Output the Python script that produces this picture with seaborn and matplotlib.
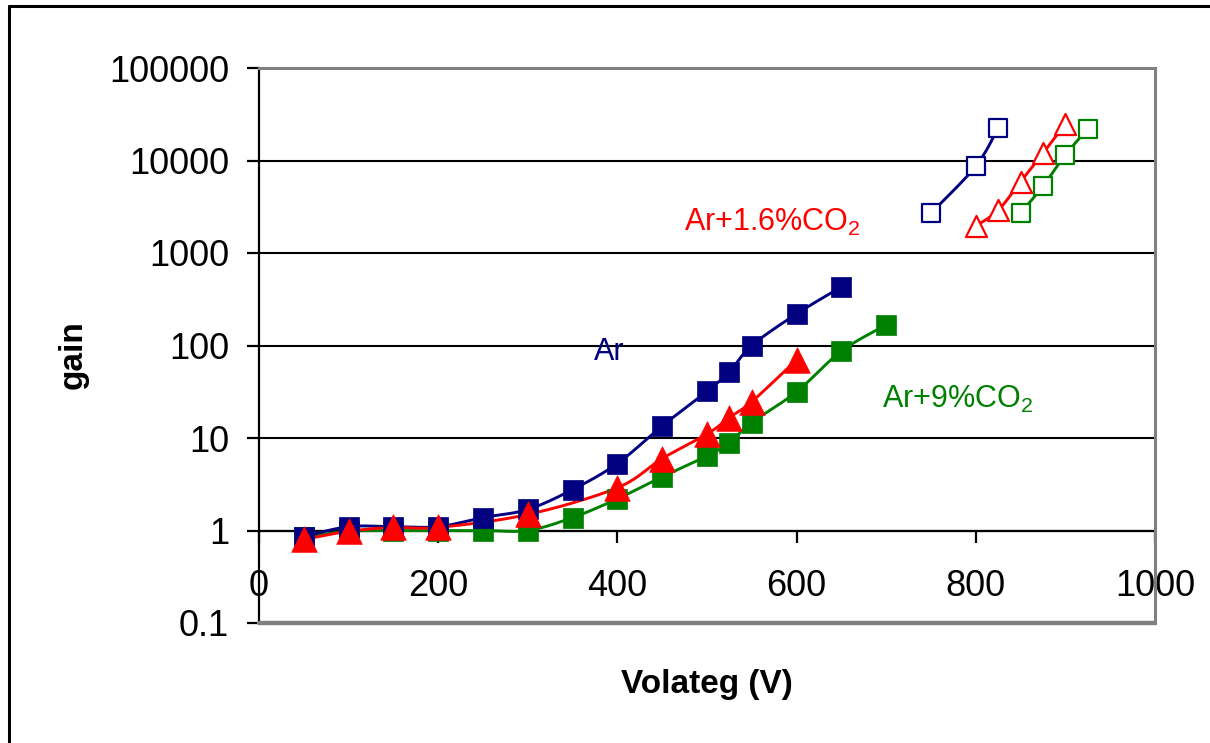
import numpy as np
import pandas as pd
import matplotlib
matplotlib.use('Agg')
import matplotlib.pyplot as plt
import seaborn as sns
from matplotlib.lines import Line2D

# --- data ---
# filled markers (low voltage range)
volt_ar = [50, 100, 150, 200, 250, 300, 350, 400, 450, 500, 525, 550, 600, 650]
gain_ar = [0.86, 1.1, 1.1, 1.1, 1.38, 1.69, 2.77, 5.3, 13.5, 32, 52, 100, 220, 430]

volt_co2_16 = [50, 100, 150, 200, 300, 400, 450, 500, 525, 550, 600]
gain_co2_16 = [0.8, 0.98, 1.08, 1.08, 1.49, 2.9, 6.0, 11, 16.6, 24.7, 70]

volt_co2_9 = [50, 100, 150, 200, 250, 300, 350, 400, 450, 500, 525, 550, 600, 650, 700]
gain_co2_9 = [0.85, 0.98, 1.0, 1.0, 1.0, 1.0, 1.38, 2.2, 3.8, 6.4, 8.9, 14.7, 31.6, 87, 167]

# open markers (high voltage range)
volt_ar_hi = [750, 800, 825]
gain_ar_hi = [2700, 8700, 22500]

volt_co2_16_hi = [800, 825, 850, 875, 900]
gain_co2_16_hi = [1960, 2900, 5900, 12000, 25000]

volt_co2_9_hi = [850, 875, 900, 925]
gain_co2_9_hi = [2700, 5300, 11500, 22000]

y_ticks = [0.1, 1, 10, 100, 1000, 10000, 100000]
y_labels = ['0.1', '1', '10', '100', '1000', '10000', '100000']
x_ticks = [0, 200, 400, 600, 800, 1000]

NAVY = '#000080'
RED = '#FF0000'
GREEN = '#008000'

sns.set_theme(style='white')
plt.rcParams['font.family'] = ['Liberation Sans', 'DejaVu Sans']
plt.rcParams['text.color'] = 'black'
plt.rcParams['xtick.color'] = 'black'
plt.rcParams['ytick.color'] = 'black'
plt.rcParams['mathtext.fontset'] = 'custom'
plt.rcParams['mathtext.rm'] = 'Liberation Sans'
plt.rcParams['mathtext.it'] = 'Liberation Sans:italic'
plt.rcParams['mathtext.bf'] = 'Liberation Sans:bold'


def smooth(xs, ys, n=24):
    # Excel style smoothed line, done in screen-like units (x linear, y log)
    u = np.asarray(xs, float) * 0.896
    v = np.log10(np.asarray(ys, float)) * 92.6
    pts = np.column_stack([u, v])
    P = np.vstack([pts[0], pts, pts[-1]])
    t = np.linspace(0, 1, n)[:, None]
    out = []
    for i in range(1, len(P) - 2):
        p0, p1, p2, p3 = P[i - 1], P[i], P[i + 1], P[i + 2]
        c1 = p1 + (p2 - p0) / 6
        c2 = p2 - (p3 - p1) / 6
        seg = ((1 - t) ** 3) * p1 + 3 * ((1 - t) ** 2) * t * c1 \
            + 3 * (1 - t) * t ** 2 * c2 + t ** 3 * p2
        out.append(seg if i == 1 else seg[1:])
    out = np.vstack(out)
    return pd.DataFrame({'x': out[:, 0] / 0.896, 'y': 10 ** (out[:, 1] / 92.6)})


fig = plt.figure(figsize=(12.1, 7.43), dpi=100)
ax = fig.add_axes([259 / 1210, 1 - 623 / 743, (1155 - 259) / 1210, (623 - 68) / 743])
ax.set_yscale('log')
ax.set_xlim(0, 1000)
ax.set_ylim(0.1, 100000)

series = [
    (volt_co2_9, gain_co2_9, GREEN, 's', True),
    (volt_ar, gain_ar, NAVY, 's', True),
    (volt_co2_16, gain_co2_16, RED, '^', True),
    (volt_ar_hi, gain_ar_hi, NAVY, 's', False),
    (volt_co2_16_hi, gain_co2_16_hi, RED, '^', False),
    (volt_co2_9_hi, gain_co2_9_hi, GREEN, 's', False),
]

for xs, ys, col, mk, filled in series:
    curve = smooth(xs, ys)
    sns.lineplot(data=curve, x='x', y='y', sort=False, estimator=None,
                 color=col, linewidth=2.1, ax=ax, zorder=3)
    pts = pd.DataFrame({'x': xs, 'y': ys})
    if filled:
        size = 220 if mk == 's' else 340
        sns.scatterplot(data=pts, x='x', y='y', marker=mk, s=size, color=col,
                        edgecolor=col, linewidth=0.5, ax=ax, zorder=4)
    else:
        size = 150 if mk == 's' else 230
        sns.scatterplot(data=pts, x='x', y='y', marker=mk, s=size, facecolor='white',
                        edgecolor=col, linewidth=1.6, ax=ax, zorder=4)

# labels on the curves
ax.text(374, 85, 'Ar', color=NAVY, fontsize=22, ha='left', va='center', zorder=5)
ax.text(474, 2150, r'Ar+1.6%CO$_\mathrm{2}$', color=RED, fontsize=22,
        ha='left', va='center', zorder=5)
ax.text(695, 26, r'Ar+9%CO$_\mathrm{2}$', color=GREEN, fontsize=22,
        ha='left', va='center', zorder=5)

# axes styling
ax.set_yticks(y_ticks)
ax.set_yticklabels(y_labels)
ax.set_xticks(x_ticks)
ax.minorticks_off()
ax.yaxis.grid(True, color='black', linewidth=1.5)
ax.xaxis.grid(False)
ax.set_axisbelow(True)

ax.spines['bottom'].set_position(('data', 1))
ax.spines['bottom'].set_color('black')
ax.spines['bottom'].set_linewidth(1.6)
ax.spines['left'].set_color('black')
ax.spines['left'].set_linewidth(1.6)
for s in ['top', 'right']:
    ax.spines[s].set_color('#808080')
    ax.spines[s].set_linewidth(2.2)
    ax.spines[s].set_zorder(6)
ax.axhline(0.1, color='#808080', linewidth=3.2, zorder=6, clip_on=False)

ax.tick_params(axis='y', direction='out', length=8.6, width=1.6, color='black',
               labelcolor='black', labelsize=26, pad=13, left=True)
ax.tick_params(axis='x', direction='out', length=8.6, width=1.6, color='black',
               labelcolor='black', labelsize=26, pad=19, bottom=True)

ax.set_xlabel('')
ax.set_ylabel('')
fig.text(707 / 1210, 1 - 685 / 743, 'Volateg (V)', fontsize=24, fontweight='bold',
         color='black', ha='center', va='center')
fig.text(73 / 1210, 1 - 355 / 743, 'gain', fontsize=24, fontweight='bold',
         color='black', rotation=90, ha='center', va='center')

# outer chart frame (only top and left edges are visible)
fig.add_artist(Line2D([9 / 1210, 1], [1 - 6 / 743, 1 - 6 / 743], color='black',
                      linewidth=2.2, transform=fig.transFigure))
fig.add_artist(Line2D([9 / 1210, 9 / 1210], [0, 1 - 6 / 743], color='black',
                      linewidth=2.2, transform=fig.transFigure))

fig.savefig('out.png', dpi=100)
